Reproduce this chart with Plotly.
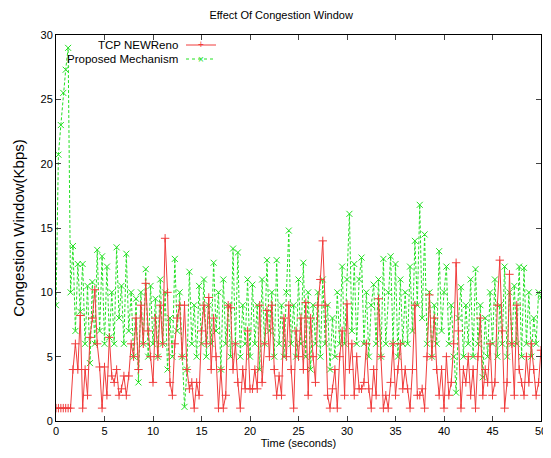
import plotly.graph_objects as go

time_step = 0.25

newreno = [
    1, 1, 1, 1, 1, 1, 1, 4, 6, 4,
    8.2, 1, 4, 2, 6.5, 8, 10.2, 6, 4.2, 1,
    4.2, 2, 6.5, 3.5, 3, 4, 2, 2.5, 3.5, 2,
    3.5, 6, 5, 8, 4, 9, 6, 10.7, 7, 5,
    3, 8, 5, 9, 6, 14.2, 10, 3, 2, 6,
    8, 9, 5, 9, 4, 2.5, 3, 1, 3, 2,
    7, 9, 6, 9.6, 4, 8, 5, 1, 4, 1,
    2, 9, 8.8, 4, 6, 3, 1, 4, 2.5, 7,
    2.5, 2.5, 4, 2.5, 9, 3, 6, 8.6, 5, 9,
    4, 2, 3.5, 2, 8, 5, 9, 4, 1, 7,
    5, 8, 4, 9.2, 2, 8, 5, 3, 9, 11,
    14, 9, 2, 1, 2.5, 4, 1, 5, 7, 2,
    9.1, 4, 6, 2, 5, 2.5, 2.5, 3, 6, 2.5,
    1, 4, 2, 9.5, 5, 1, 2, 1, 3, 6,
    2, 4, 6, 2.5, 4, 2.5, 1, 4, 9, 2,
    2, 2.5, 1, 5, 9.8, 5, 8, 4, 2, 4,
    1, 5, 2, 3, 6, 12.3, 7, 1, 4, 3,
    5, 2, 4, 1, 5, 8, 2, 4, 3, 6,
    2, 3, 9, 12.5, 7, 1, 3, 11.4, 6, 2,
    9, 4, 3, 2, 5, 3, 6, 4, 2, 3,
    5.5,
]

proposed = [
    9, 20.7, 23, 25.5, 27.3, 29, 10, 13.6, 7, 12.2,
    8.5, 12.2, 6, 10.5, 4.5, 10.8, 6, 13.3, 7, 12.8,
    6, 12, 6.5, 10, 6, 13.5, 8, 10.5, 6, 13,
    7, 10, 5, 9.5, 3, 10, 6, 11.8, 5, 10.5,
    6, 9.5, 5, 11, 6, 10, 4, 8, 5, 12.6,
    7, 10, 5, 1.1, 4, 11.6, 6, 9, 5, 10.5,
    6, 11, 5, 9, 6, 12.3, 7, 10, 4, 11,
    6, 9, 5, 13.4, 6, 13.1, 5, 9, 6, 11,
    5, 10.6, 6, 9, 4, 11, 6, 12.5, 7, 10,
    5, 12.5, 6, 9, 5, 10, 14.8, 6, 9, 5,
    11, 6, 12.3, 5, 10, 4, 9, 6, 10, 5,
    11, 6, 9, 4, 8, 5, 10, 6, 12, 6,
    11, 16.1, 7, 12.2, 6, 11, 12.7, 6, 10, 5,
    9, 10.6, 6, 11, 5, 12.6, 6, 10, 12.8, 6,
    12.2, 5, 11, 6, 10, 6, 12, 7, 14, 9,
    16.8, 8, 14.5, 6, 10, 5, 9, 6, 13.2, 7,
    10, 12, 6, 9, 5, 2.2, 8, 10.4, 5, 9,
    6, 11, 5, 11.8, 6, 9, 3.4, 8, 5, 10,
    6, 11, 5, 9, 6, 12, 5, 10, 6, 10.5,
    6, 12, 5, 11.9, 6, 10, 5, 8, 6, 10,
    9.6,
]

series_names = ["TCP NEWReno", "Proposed Mechanism"]
x_ticks = [0, 5, 10, 15, 20, 25, 30, 35, 40, 45, 50]
y_ticks = [0, 5, 10, 15, 20, 25, 30]

times = [i * time_step for i in range(len(newreno))]

RED = "#f03c3c"
GREEN = "#22e022"
FONT = "Liberation Sans, Arial, sans-serif"

fig = go.Figure()
fig.add_trace(go.Scatter(
    x=times, y=proposed, mode="lines+markers", name=series_names[1],
    line=dict(color=GREEN, width=1, dash="3px,2px"),
    marker=dict(symbol="x-thin", size=6, line=dict(width=1, color=GREEN)),
    showlegend=False,
))
fig.add_trace(go.Scatter(
    x=times, y=newreno, mode="lines+markers", name=series_names[0],
    line=dict(color=RED, width=1),
    marker=dict(symbol="cross-thin", size=6, line=dict(width=1, color=RED)),
    showlegend=False,
))

OFF = 8  # page body offset
W, H = 551 - OFF, 458 - OFF
ml, mt = 56 - OFF, 35 - OFF
mr, mb = 10, 37
pw, ph = W - ml - mr, H - mt - mb

def px(xp):
    return (xp - OFF - ml) / pw

def py(yp):
    return 1 - (yp - OFF - mt) / ph

# custom gnuplot-style key (text right-aligned, sample on the right)
shapes = []
annotations = []
key_rows = [(series_names[0], 45, RED, "solid", "+"),
            (series_names[1], 59, GREEN, "dot", "×")]
for name, yp, col, dash, glyph in key_rows:
    annotations.append(dict(
        x=px(180), y=py(yp), xref="paper", yref="paper", text=name,
        showarrow=False, xanchor="right", yanchor="middle",
        font=dict(family=FONT, size=11.5, color="black")))
    shapes.append(dict(
        type="line", xref="paper", yref="paper",
        x0=px(186), x1=px(216), y0=py(yp), y1=py(yp),
        line=dict(color=col, width=1, dash=dash)))
    annotations.append(dict(
        x=px(201), y=py(yp), xref="paper", yref="paper", text=glyph,
        showarrow=False, xanchor="center", yanchor="middle",
        font=dict(family=FONT, size=10, color=col)))

fig.update_layout(
    width=W, height=H,
    margin=dict(l=ml, r=mr, t=mt, b=mb),
    paper_bgcolor="white", plot_bgcolor="white",
    font=dict(family=FONT, size=11, color="black"),
    title=dict(text="Effect Of Congestion Window", x=px(300), xanchor="center",
               y=1 - (15 - OFF) / H, yanchor="middle",
               font=dict(family=FONT, size=11, color="black")),
    shapes=shapes, annotations=annotations,
    xaxis=dict(range=[0, 50], tickvals=x_ticks, ticks="inside", ticklen=5,
               showline=True, linecolor="black", linewidth=1, mirror="ticks",
               showgrid=False, zeroline=False, automargin=False,
               tickfont=dict(family=FONT, size=11),
               title=dict(text="Time (seconds)", standoff=1,
                          font=dict(family=FONT, size=11))),
    yaxis=dict(range=[0, 30], tickvals=y_ticks, ticks="inside", ticklen=5,
               showline=True, linecolor="black", linewidth=1, mirror="ticks",
               showgrid=False, zeroline=False, automargin=False,
               tickfont=dict(family=FONT, size=11),
               title=dict(text="Congestion Window(Kbps)", standoff=12,
                          font=dict(family=FONT, size=15))),
)

fig.write_html("out.html")
